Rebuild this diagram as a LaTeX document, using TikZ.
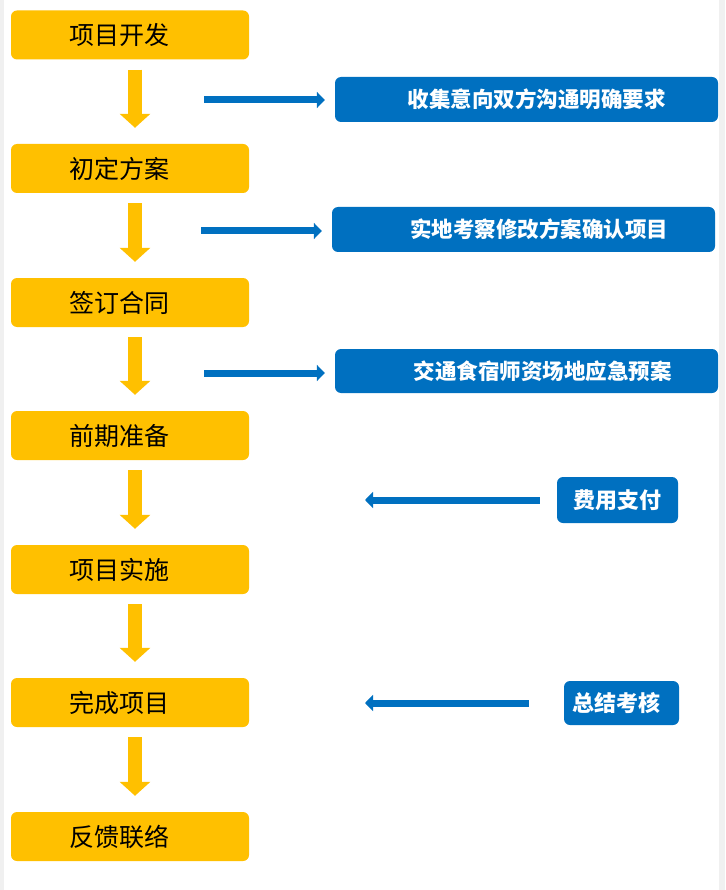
\documentclass[tikz,border=0pt]{standalone}
\usepackage{fontspec}
\newfontfamily\cjk{Noto Sans CJK SC}
\definecolor{stepyellow}{RGB}{255,192,0}
\definecolor{noteblue}{RGB}{0,112,192}
\definecolor{edgegray}{RGB}{240,240,240}
\usetikzlibrary{arrows.meta,positioning}

\begin{document}
\begin{tikzpicture}[x=1pt,y=-1pt,
    stepbox/.style={fill=stepyellow, rounded corners=6pt, minimum width=238pt,
      minimum height=49pt, inner sep=0pt, font=\cjk\fontsize{25}{25}\selectfont},
    notebox/.style={fill=noteblue, rounded corners=6pt, minimum height=45pt,
      inner sep=0pt, text=white, font=\cjk\bfseries\fontsize{21.5}{21.5}\selectfont},
    downarrow/.style={draw=stepyellow, line width=14pt,
      -{Triangle[length=14pt,width=30pt]}, shorten <=10pt, shorten >=16pt},
    sidearrow/.style={draw=noteblue, line width=7pt,
      -{Triangle[length=8pt,width=16pt]}}]
    % Page edges
    \fill[edgegray] (0,0) rectangle (725,890);
    \fill[white] (4,0) rectangle (719,890);
    \useasboundingbox (0,0) rectangle (725,890);
    % Main steps
    \foreach \n/\y/\txt in {s1/35/项目开发, s2/168.5/初定方案, s3/302.5/签订合同,
      s4/435.5/前期准备, s5/569.5/项目实施, s6/702.5/完成项目, s7/836.5/反馈联络}
      \node[stepbox] (\n) at (130,\y) {\hspace{-22pt}\txt};
    \foreach \a/\b in {s1/s2,s2/s3,s3/s4,s4/s5,s5/s6,s6/s7}
      \draw[downarrow] ([xshift=5pt]\a.south) -- ([xshift=5pt]\b.north);
    % Side notes
    \node[notebox, minimum width=383pt] (n1) at (526.5,99.5)
      {\hspace{20pt}收集意向双方沟通明确要求};
    \node[notebox, minimum width=383pt] (n2) at (523.5,229.5)
      {\hspace{31pt}实地考察修改方案确认项目};
    \node[notebox, minimum width=383pt, minimum height=44pt] (n3) at (526.5,371)
      {\hspace{32pt}交通食宿师资场地应急预案};
    \node[notebox, minimum width=121pt, minimum height=46pt,
      font=\cjk\bfseries\fontsize{22}{22}\selectfont] (n4) at (617.5,500) {费用支付};
    \node[notebox, minimum width=115pt, minimum height=44pt,
      font=\cjk\bfseries\fontsize{22}{22}\selectfont] (n5) at (621.5,703)
      {\hspace{-10pt}总结考核};
    % Side arrows
    \coordinate (a1) at (204,100);
    \coordinate (a2) at (201,231);
    \coordinate (a3) at (204,373);
    \coordinate (a4) at (365,500);
    \coordinate (a5) at (365,703);
    \draw[sidearrow, shorten >=10pt] (a1) -- (a1 -| n1.west);
    \draw[sidearrow, shorten >=10pt] (a2) -- (a2 -| n2.west);
    \draw[sidearrow, shorten >=10pt] (a3) -- (a3 -| n3.west);
    \draw[sidearrow, shorten <=17pt] (a4 -| n4.west) -- (a4);
    \draw[sidearrow, shorten <=35pt] (a5 -| n5.west) -- (a5);
\end{tikzpicture}
\end{document}
